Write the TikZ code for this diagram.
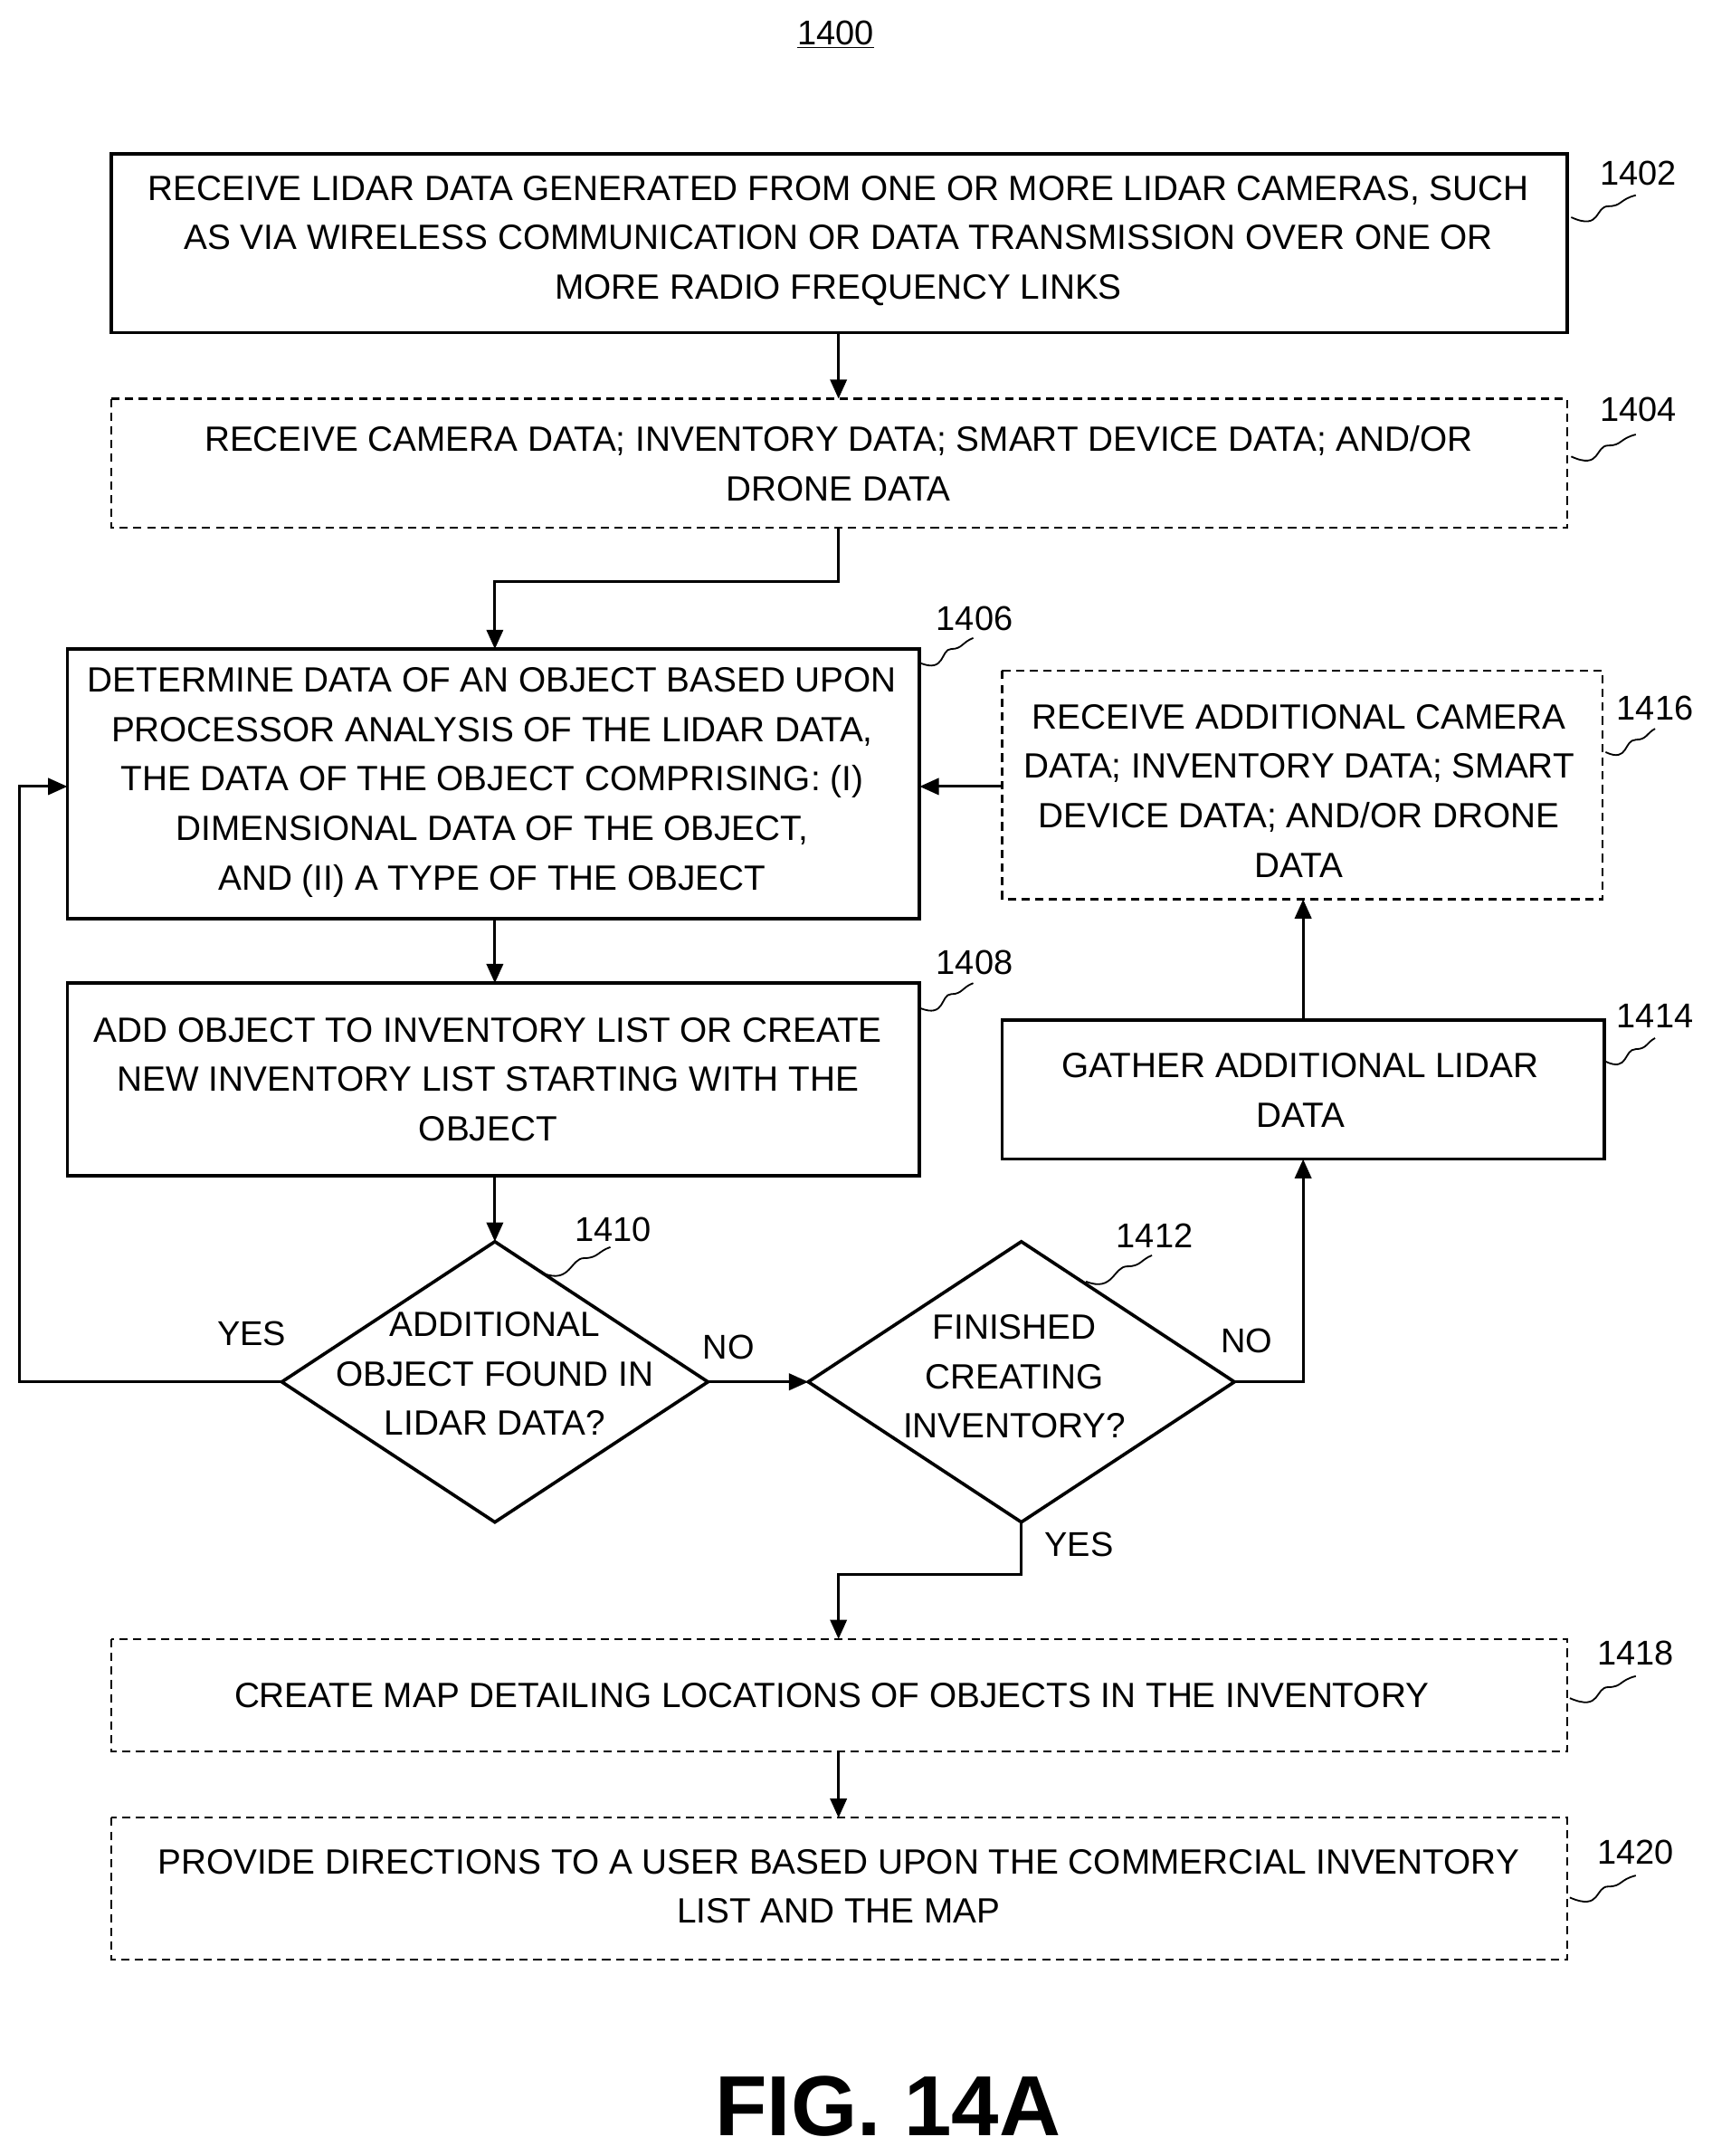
\documentclass[tikz,border=0pt]{standalone}
\usepackage{fontspec}
\setmainfont{Liberation Sans}
\usetikzlibrary{arrows.meta}
\begin{document}
\begin{tikzpicture}[x=1pt,y=-1pt,
  solidbox/.style={draw,line width=2.4pt},
  dashbox/.style={draw,line width=1.4pt,dash pattern=on 6pt off 4pt},
  txt/.style={align=center,font=\fontsize{25.5}{36}\selectfont,inner sep=0},
  lbl/.style={font=\fontsize{25}{28}\selectfont,inner sep=0},
  arr/.style={line width=2pt,-{Triangle[length=14pt,width=12pt]}},
  sq/.style={line width=1.2pt}]
\useasboundingbox (0,0) rectangle (1245,1568);
\node[lbl] (t1400) at (608,25) {\underline{1400}};
% boxes
\draw[solidbox] (81,112) rectangle (1140,242);
\node[txt] (b1402) at (610,175) {RECEIVE LIDAR DATA GENERATED FROM ONE OR MORE LIDAR CAMERAS, SUCH\\AS VIA WIRELESS COMMUNICATION OR DATA TRANSMISSION OVER ONE OR\\MORE RADIO FREQUENCY LINKS};
\draw[dashbox] (81,290) rectangle (1140,384);
\node[txt] (b1404) at (610,337) {RECEIVE CAMERA DATA; INVENTORY DATA; SMART DEVICE DATA; AND/OR\\DRONE DATA};
\draw[solidbox] (49,472) rectangle (669,668);
\node[txt] (b1406) at (358,569) {DETERMINE DATA OF AN OBJECT BASED UPON\\PROCESSOR ANALYSIS OF THE LIDAR DATA,\\THE DATA OF THE OBJECT COMPRISING: (I)\\DIMENSIONAL DATA OF THE OBJECT,\\AND (II) A TYPE OF THE OBJECT};
\draw[dashbox] (729,488) rectangle (1166,654);
\node[txt] (b1416) at (945,575) {RECEIVE ADDITIONAL CAMERA\\DATA; INVENTORY DATA; SMART\\DEVICE DATA; AND/OR DRONE\\DATA};
\draw[solidbox] (49,715) rectangle (669,855);
\node[txt] (b1408) at (355,785) {ADD OBJECT TO INVENTORY LIST OR CREATE\\NEW INVENTORY LIST STARTING WITH THE\\OBJECT};
\draw[solidbox] (729,742) rectangle (1167,843);
\node[txt] (b1414) at (946,793) {GATHER ADDITIONAL LIDAR\\DATA};
\draw[solidbox] (360,903) -- (515,1005) -- (360,1107) -- (205,1005) -- cycle;
\node[txt] (d1410) at (360,999) {ADDITIONAL\\OBJECT FOUND IN\\LIDAR DATA?};
\draw[solidbox] (743,903) -- (898,1005) -- (743,1107) -- (588,1005) -- cycle;
\node[txt] (d1412) at (738,1001) {FINISHED\\CREATING\\INVENTORY?};
\draw[dashbox] (81,1192) rectangle (1140,1274);
\node[txt] (b1418) at (605,1233) {CREATE MAP DETAILING LOCATIONS OF OBJECTS IN THE INVENTORY};
\draw[dashbox] (81,1322) rectangle (1140,1425);
\node[txt] (b1420) at (610,1372) {PROVIDE DIRECTIONS TO A USER BASED UPON THE COMMERCIAL INVENTORY\\LIST AND THE MAP};
% arrows
\coordinate (a1) at (610,242); \coordinate (a2) at (610,290);
\draw[arr] (a1) -- (a2);
\coordinate (c1) at (610,384); \coordinate (c2) at (360,472);
\draw[arr] (c1) -- (610,423) -- (360,423) -- (c2);
\coordinate (c3) at (360,668); \coordinate (c4) at (360,715);
\draw[arr] (c3) -- (c4);
\coordinate (c5) at (360,855); \coordinate (c6) at (360,903);
\draw[arr] (c5) -- (c6);
\coordinate (c7) at (205,1005); \coordinate (c8) at (49,572);
\draw[arr] (c7) -- (14,1005) -- (14,572) -- (c8);
\coordinate (c9) at (515,1005); \coordinate (c10) at (588,1005);
\draw[arr] (c9) -- (c10);
\coordinate (c11) at (898,1005); \coordinate (c12) at (948,843);
\draw[arr] (c11) -- (948,1005) -- (c12);
\coordinate (c13) at (948,742); \coordinate (c14) at (948,654);
\draw[arr] (c13) -- (c14);
\coordinate (c15) at (729,572); \coordinate (c16) at (669,572);
\draw[arr] (c15) -- (c16);
\coordinate (c17) at (743,1107); \coordinate (c18) at (610,1192);
\draw[arr] (c17) -- (743,1145) -- (610,1145) -- (c18);
\coordinate (c19) at (610,1274); \coordinate (c20) at (610,1322);
\draw[arr] (c19) -- (c20);
% branch labels
\node[lbl] (yes1) at (183,970) {YES};
\node[lbl] (no1) at (530,980) {NO};
\node[lbl] (no2) at (907,975) {NO};
\node[lbl] (yes2) at (785,1123) {YES};
% ref labels
\node[lbl] (r1402) at (1192,126) {1402};
\node[lbl] (r1404) at (1192,298) {1404};
\node[lbl] (r1406) at (709,450) {1406};
\node[lbl] (r1416) at (1204,515) {1416};
\node[lbl] (r1408) at (709,700) {1408};
\node[lbl] (r1414) at (1204,739) {1414};
\node[lbl] (r1410) at (446,894) {1410};
\node[lbl] (r1412) at (840,899) {1412};
\node[lbl] (r1418) at (1190,1202) {1418};
\node[lbl] (r1420) at (1190,1347) {1420};
\draw[sq] (1143,158) .. controls (1165,168) and (1160,150) .. (1170,150) .. controls (1180,150) and (1178,145) .. (1190,142);
\draw[sq] (1143,332) .. controls (1165,342) and (1160,324) .. (1170,324) .. controls (1180,324) and (1178,319) .. (1190,316);
\draw[sq] (669,482) .. controls (688,490) and (684,472) .. (692,472) .. controls (700,472) and (700,467) .. (708,464);
\draw[sq] (1168,547) .. controls (1185,555) and (1181,538) .. (1190,538) .. controls (1198,538) and (1198,533) .. (1204,530);
\draw[sq] (669,733) .. controls (688,741) and (684,723) .. (692,723) .. controls (700,723) and (700,718) .. (708,715);
\draw[sq] (1168,772) .. controls (1185,780) and (1181,763) .. (1190,763) .. controls (1198,763) and (1198,758) .. (1204,755);
\draw[sq] (395,926) .. controls (415,934) and (415,915) .. (425,915) .. controls (435,915) and (435,910) .. (444,907);
\draw[sq] (790,932) .. controls (810,940) and (810,921) .. (820,921) .. controls (830,921) and (830,916) .. (838,913);
\draw[sq] (1142,1235) .. controls (1165,1245) and (1160,1227) .. (1170,1227) .. controls (1180,1227) and (1178,1222) .. (1190,1219);
\draw[sq] (1142,1380) .. controls (1165,1390) and (1160,1372) .. (1170,1372) .. controls (1180,1372) and (1178,1367) .. (1190,1364);
\node[font=\fontsize{62}{62}\selectfont\bfseries,inner sep=0] (fig) at (646,1532) {FIG. 14A};
\end{tikzpicture}
\end{document}
